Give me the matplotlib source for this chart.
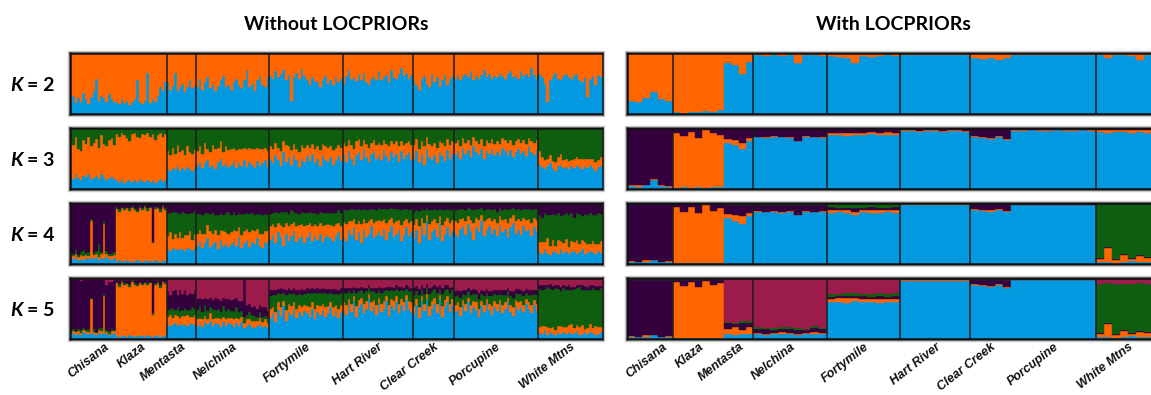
import matplotlib
matplotlib.use("Agg")
import numpy as np
import matplotlib.pyplot as plt
from matplotlib.patches import Rectangle
from matplotlib.transforms import blended_transform_factory

# ---------------------------------------------------------------------------
# Populations (in plotting order) and number of individuals in each
# ---------------------------------------------------------------------------
populations = ["Chisana", "Klaza", "Mentasta", "Nelchina", "Fortymile",
               "Hart River", "Clear Creek", "Porcupine", "White Mtns"]
sample_sizes = [46, 51, 29, 73, 73, 70, 41, 84, 64]

cluster_colors = {
    "blue": "#0299E1",
    "orange": "#FF6600",
    "green": "#0E5E10",
    "purple": "#34003E",
    "maroon": "#9B1B4B",
}

# separator lines are drawn after these population indices
left_separators = [1, 2, 3, 4, 5, 6, 7]
right_separators = [0, 2, 3, 4, 5, 7]

# ---------------------------------------------------------------------------
# Ancestry proportions (%) - without LOCPRIORs.  One inner list per
# population; the top-most cluster takes the remainder up to 100 %.
# ---------------------------------------------------------------------------
left_k2_blue = [
    [22, 30, 18, 26, 20, 34, 24, 16, 28, 38, 57, 22, 30, 26, 20, 32, 24, 19],
    [20, 16, 24, 18, 22, 15, 19, 25, 56, 20, 17, 22, 68, 18, 24, 20, 30, 45, 38, 52],
    [52, 40, 46, 68, 38, 44, 50, 36, 45, 55, 42, 48],
    [45, 58, 40, 52, 60, 42, 50, 38, 46, 55, 62, 44, 48, 40, 52, 58, 47, 42, 55, 72,
     44, 50, 38, 56, 62, 48, 45, 60],
    [62, 58, 70, 60, 66, 72, 55, 64, 22, 60, 68, 58, 74, 62, 56, 48, 60, 54, 52, 45,
     58, 62, 50, 56, 48, 60, 52, 58],
    [50, 62, 72, 58, 60, 54, 66, 55, 68, 52, 48, 58, 62, 56, 70, 55, 60, 64, 52, 72,
     60, 58, 66, 75, 62, 68, 58, 64],
    [55, 48, 40, 58, 62, 50, 44, 66, 52, 60, 45, 55, 64, 48, 58, 62],
    [58, 64, 55, 62, 66, 60, 70, 56, 62, 58, 64, 72, 60, 66, 58, 63, 60, 68, 62, 58,
     66, 70, 60, 64, 58, 70, 62, 66, 60, 75, 64, 58],
    [66, 60, 50, 20, 56, 62, 68, 58, 55, 62, 66, 60, 58, 64, 66, 56, 52, 60, 28, 58,
     62, 48, 64, 60],
]

left_k3_blue = [
    [20, 16, 24, 18, 15, 22, 19, 25, 17, 18, 22, 16, 25, 20, 14, 18, 22, 16],
    [14, 12, 16, 10, 13, 15, 11, 14, 12, 16, 13, 11, 15, 12, 14, 10, 13, 16, 12, 14],
    [33, 30, 35, 32, 38, 30, 34, 31, 36, 33, 30, 35],
    [38, 45, 35, 42, 48, 36, 40, 33, 44, 50, 38, 42, 36, 40, 46, 34, 42, 38, 48, 36,
     44, 40, 35, 46, 38, 42, 48, 36],
    [50, 42, 56, 48, 38, 60, 45, 52, 40, 55, 47, 36, 50, 44, 54, 46, 58, 42, 50, 38,
     56, 48, 44, 52, 40, 48, 54, 46],
    [58, 45, 62, 50, 40, 55, 60, 48, 65, 52, 44, 58, 62, 50, 56, 48, 64, 54, 46, 60,
     52, 58, 44, 62, 50, 56, 60, 48],
    [50, 62, 44, 58, 40, 65, 52, 48, 56, 42, 60, 54, 46, 64, 50, 58],
    [55, 62, 50, 68, 58, 64, 52, 70, 60, 56, 66, 50, 62, 58, 65, 55, 60, 54, 68, 62,
     56, 64, 52, 60, 66, 58, 62, 54, 70, 60, 56, 64],
    [40, 36, 32, 38, 42, 35, 30, 38, 40, 34, 36, 32, 38, 34, 40, 36, 32, 38, 35, 40,
     34, 30, 36, 38],
]
left_k3_orange = [
    [58, 56, 61, 48, 47, 58, 55, 61, 53, 58, 60, 52, 63, 54, 56, 62, 62, 56],
    [76, 74, 76, 78, 71, 63, 79, 78, 74, 68, 77, 77, 77, 74, 76, 70, 75, 76, 74, 76],
    [29, 25, 33, 26, 34, 30, 30, 25, 34, 27, 28, 31],
    [24, 25, 23, 33, 18, 24, 32, 32, 24, 28, 22, 28, 28, 26, 22, 30, 24, 28, 20, 30,
     24, 26, 30, 22, 28, 24, 20, 26],
    [20, 24, 19, 20, 24, 18, 27, 18, 24, 19, 19, 24, 22, 24, 18, 22, 16, 24, 20, 26,
     18, 22, 24, 18, 24, 20, 18, 22],
    [17, 25, 18, 22, 26, 23, 22, 22, 15, 22, 24, 18, 18, 22, 20, 24, 16, 20, 24, 18,
     22, 20, 26, 16, 22, 20, 18, 24],
    [22, 20, 22, 20, 30, 20, 22, 22, 20, 26, 18, 22, 24, 18, 22, 20],
    [20, 18, 20, 16, 18, 16, 20, 16, 18, 18, 16, 20, 18, 18, 17, 19, 18, 20, 16, 18,
     20, 16, 20, 18, 16, 18, 18, 20, 14, 18, 20, 16],
    [22, 16, 16, 12, 14, 11, 14, 14, 18, 14, 14, 14, 10, 16, 12, 14, 18, 12, 14, 10,
     16, 14, 12, 14],
]

left_k4_blue = [
    [10, 8, 12, 6, 9, 7, 11, 8, 10, 9, 12, 7, 10, 8, 11, 9, 7, 10],
    [5, 6, 4, 5, 6, 5, 4, 5, 6, 5, 4, 6, 5, 5, 4, 6, 5, 4, 6, 5],
    [24, 22, 26, 25, 23, 24, 25, 22, 26, 24, 23, 25],
    [30, 38, 26, 34, 42, 28, 32, 36, 25, 40, 30, 35, 28, 33, 38, 30, 44, 26, 34, 40,
     28, 36, 32, 42, 30, 26, 36, 32],
    [40, 48, 35, 52, 44, 30, 50, 38, 46, 54, 36, 42, 48, 34, 44, 52, 38, 46, 40, 50,
     36, 44, 48, 42, 38, 46, 52, 40],
    [45, 38, 55, 48, 60, 40, 52, 35, 58, 44, 50, 62, 42, 48, 54, 46, 58, 40, 52, 62,
     44, 50, 56, 38, 48, 60, 46, 52],
    [42, 55, 35, 62, 48, 70, 40, 52, 58, 44, 66, 38, 50, 60, 46, 54],
    [50, 44, 58, 62, 48, 66, 54, 40, 60, 52, 70, 46, 56, 62, 50, 58, 46, 64, 52, 58,
     44, 60, 68, 50, 56, 48, 62, 54, 58, 46, 60, 52],
    [20, 16, 24, 18, 15, 22, 20, 17, 24, 18, 21, 16, 19, 22, 17, 20, 24, 16, 18, 22,
     20, 17, 21, 18],
]
left_k4_orange = [
    [6, 5, 4, 5, 5, 6, 4, 5, 60, 6, 4, 5, 6, 58, 5, 4, 6, 5],
    [85, 80, 88, 84, 86, 82, 88, 84, 80, 86, 84, 88, 82, 86, 30, 84, 86, 82, 88, 84],
    [22, 30, 15, 25, 20, 28, 18, 26, 22, 30, 16, 24],
    [20, 18, 24, 16, 22, 26, 18, 20, 22, 15, 24, 18, 22, 20, 18, 24, 16, 22, 20, 18,
     24, 20, 22, 16, 20, 24, 18, 22],
    [22, 18, 26, 16, 20, 30, 18, 24, 20, 15, 26, 22, 18, 28, 20, 16, 24, 20, 22, 18,
     26, 20, 18, 22, 24, 20, 16, 22],
    [24, 28, 16, 22, 14, 26, 18, 30, 16, 24, 20, 12, 26, 22, 18, 24, 16, 28, 20, 14,
     24, 20, 16, 26, 22, 14, 22, 18],
    [22, 18, 28, 14, 20, 10, 26, 18, 16, 24, 12, 26, 20, 16, 22, 18],
    [20, 24, 16, 14, 22, 12, 18, 28, 16, 20, 10, 24, 18, 14, 20, 16, 22, 14, 20, 16,
     24, 16, 12, 20, 18, 22, 14, 18, 16, 22, 16, 20],
    [16, 20, 12, 24, 14, 18, 10, 22, 14, 16, 20, 12, 18, 14, 22, 12, 16, 20, 14, 10,
     18, 16, 12, 20],
]
left_k4_green = [
    [3, 4, 8, 3, 5, 10, 3, 6, 4, 3, 5, 20, 3, 4, 6, 3, 5, 4],
    [3, 4, 2, 3, 2, 5, 3, 2, 3, 4, 3, 2, 4, 3, 2, 3, 2, 4, 2, 3],
    [38, 32, 44, 35, 40, 30, 42, 36, 34, 30, 44, 38],
    [32, 26, 30, 34, 20, 28, 36, 24, 33, 28, 26, 30, 35, 28, 30, 26, 24, 34, 28, 26,
     30, 28, 26, 24, 32, 30, 28, 26],
    [20, 18, 24, 16, 22, 26, 18, 20, 22, 16, 22, 18, 20, 22, 20, 18, 22, 18, 20, 18,
     22, 20, 18, 20, 22, 18, 20, 22],
    [20, 22, 18, 20, 16, 22, 20, 24, 16, 20, 18, 16, 22, 18, 20, 20, 16, 22, 18, 16,
     22, 20, 18, 24, 20, 16, 20, 20],
    [22, 15, 24, 14, 20, 12, 22, 18, 16, 20, 12, 24, 18, 14, 20, 16],
    [18, 20, 16, 14, 18, 14, 18, 20, 14, 18, 12, 18, 16, 14, 18, 16, 18, 14, 16, 16,
     20, 14, 12, 18, 16, 18, 14, 18, 16, 20, 14, 18],
    [44, 40, 48, 38, 52, 42, 50, 44, 40, 46, 42, 52, 46, 40, 44, 50, 38, 46, 48, 52,
     42, 48, 50, 44],
]

left_k5_blue = [
    [8, 10, 6, 9, 7, 11, 8, 9, 10, 8, 7, 10, 9, 11, 8, 6, 9, 10],
    [5, 4, 6, 5, 4, 6, 5, 4, 5, 6, 5, 4, 6, 5, 4, 5, 6, 4, 5, 6],
    [24, 22, 25, 26, 22, 24, 23, 25, 22, 26, 24, 23],
    [22, 26, 20, 28, 24, 30, 22, 26, 24, 20, 28, 22, 26, 24, 20, 26, 22, 28, 18, 22,
     24, 20, 18, 22, 24, 20, 22, 18],
    [35, 42, 28, 48, 38, 54, 30, 45, 40, 50, 34, 44, 38, 46, 42, 36, 50, 32, 44, 40,
     48, 36, 42, 52, 38, 46, 34, 44],
    [48, 40, 56, 44, 62, 36, 52, 58, 42, 50, 65, 46, 54, 40, 58, 44, 50, 62, 38, 54,
     48, 60, 42, 56, 46, 64, 50, 44],
    [40, 55, 34, 62, 46, 66, 38, 50, 58, 42, 64, 36, 52, 60, 44, 56],
    [44, 50, 38, 56, 46, 60, 42, 52, 48, 36, 54, 44, 58, 48, 40, 52, 46, 56, 42, 50,
     60, 44, 38, 54, 48, 52, 44, 58, 50, 42, 56, 46],
    [10, 8, 14, 7, 12, 9, 6, 10, 8, 12, 9, 11, 8, 10, 13, 7, 9, 11, 8, 12, 10, 7, 9, 11],
]
left_k5_orange = [
    [4, 3, 5, 4, 3, 4, 5, 3, 55, 4, 3, 5, 4, 60, 4, 3, 4, 3],
    [86, 82, 88, 84, 86, 80, 88, 84, 82, 86, 84, 88, 82, 86, 35, 84, 86, 80, 88, 84],
    [12, 18, 10, 14, 16, 10, 14, 12, 18, 10, 12, 16],
    [10, 8, 12, 10, 8, 12, 10, 8, 10, 12, 8, 10, 8, 10, 12, 8, 10, 8, 8, 10, 8, 10, 12,
     8, 10, 8, 10, 8],
    [14, 10, 16, 12, 15, 8, 18, 12, 14, 10, 16, 12, 14, 10, 12, 16, 10, 18, 12, 14, 10,
     16, 12, 8, 14, 10, 16, 12],
    [12, 16, 10, 14, 8, 18, 12, 10, 16, 12, 8, 14, 10, 16, 10, 14, 12, 8, 18, 12, 14,
     10, 16, 10, 14, 8, 12, 16],
    [14, 10, 18, 8, 12, 8, 16, 12, 10, 16, 8, 18, 12, 10, 14, 10],
    [12, 10, 14, 8, 12, 8, 14, 10, 12, 14, 8, 12, 8, 10, 14, 10, 12, 8, 14, 10, 8, 12,
     14, 10, 12, 10, 12, 8, 10, 14, 8, 12],
    [10, 14, 8, 12, 6, 10, 8, 12, 14, 8, 10, 12, 16, 8, 10, 12, 14, 6, 10, 12, 8, 14,
     10, 8],
]
left_k5_green = [
    [3, 4, 2, 3, 5, 3, 2, 4, 3, 4, 2, 3, 5, 3, 2, 4, 3, 2],
    [3, 4, 2, 3, 2, 4, 3, 3, 3, 2, 3, 2, 4, 3, 3, 2, 3, 4, 2, 3],
    [12, 10, 16, 8, 14, 12, 10, 14, 8, 12, 16, 10],
    [16, 20, 12, 18, 14, 10, 18, 14, 16, 12, 18, 14, 16, 12, 14, 18, 12, 10, 10, 8, 12,
     10, 8, 6, 10, 8, 6, 8],
    [22, 20, 28, 16, 20, 14, 24, 18, 20, 16, 22, 18, 20, 18, 22, 24, 16, 26, 20, 22, 18,
     24, 20, 16, 22, 18, 24, 20],
    [16, 20, 12, 18, 10, 22, 14, 12, 18, 16, 10, 18, 14, 20, 12, 18, 16, 10, 22, 14, 16,
     12, 20, 14, 18, 10, 16, 18],
    [18, 14, 20, 12, 16, 10, 20, 16, 14, 18, 10, 20, 16, 12, 18, 14],
    [14, 12, 16, 10, 14, 10, 16, 12, 14, 16, 12, 14, 10, 12, 16, 12, 14, 10, 16, 12, 10,
     14, 16, 12, 14, 12, 14, 10, 12, 16, 10, 14],
    [62, 58, 60, 66, 64, 62, 70, 60, 56, 64, 62, 58, 56, 64, 60, 66, 58, 64, 62, 56, 66,
     60, 62, 64],
]
left_k5_purple = [
    [83, 80, 85, 82, 80, 78, 84, 80, 30, 82, 84, 78, 80, 24, 75, 80, 78, 82],
    [4, 6, 2, 5, 6, 7, 2, 6, 8, 4, 5, 4, 6, 4, 55, 6, 3, 9, 3, 5],
    [30, 22, 28, 32, 20, 34, 26, 30, 24, 28, 22, 32],
    [18, 14, 22, 12, 20, 16, 14, 20, 16, 18, 14, 20, 16, 18, 20, 16, 18, 16, 62, 16, 14,
     12, 16, 14, 12, 16, 14, 12],
    [10, 8, 8, 6, 10, 6, 8, 8, 6, 8, 8, 6, 10, 6, 8, 6, 8, 6, 8, 6, 8, 6, 8, 6, 8, 8, 6, 8],
    [8, 8, 6, 8, 6, 8, 6, 6, 8, 6, 5, 6, 6, 8, 6, 8, 6, 6, 8, 6, 6, 6, 8, 6, 6, 6, 8, 6],
    [12, 8, 10, 6, 10, 6, 10, 8, 6, 10, 6, 10, 8, 6, 8, 6],
    [8, 8, 10, 6, 8, 6, 8, 8, 6, 10, 6, 8, 6, 8, 8, 6, 8, 6, 8, 8, 6, 8, 10, 6, 8, 6, 8,
     6, 8, 8, 6, 8],
    [6, 8, 6, 4, 8, 6, 4, 6, 8, 4, 6, 8, 6, 4, 6, 4, 8, 6, 6, 8, 4, 6, 6, 4],
]

# ---------------------------------------------------------------------------
# Ancestry proportions (%) - with LOCPRIORs
# ---------------------------------------------------------------------------
right_k2_blue = [
    [22, 20, 26, 36, 24, 21],
    [3, 2, 4, 3, 5, 4, 6],
    [84, 80, 65, 86],
    [96, 95, 96, 95, 97, 84, 96, 96, 95],
    [95, 94, 92, 83, 95, 94, 95, 96, 95],
    [97, 96, 97, 97, 96, 97, 97, 96, 97],
    [92, 90, 91, 89, 92],
    [97, 97, 96, 97, 97, 96, 97, 97, 96, 97],
    [96, 92, 96, 97, 95, 88, 96, 66],
]

right_k3_blue = [
    [5, 4, 6, 14, 5, 4],
    [2, 3, 2, 3, 2, 3, 3],
    [76, 72, 66, 78],
    [85, 84, 86, 85, 84, 78, 86, 85, 84],
    [88, 89, 87, 89, 88, 90, 88, 89, 88],
    [95, 95, 94, 95, 95, 94, 95, 95, 94],
    [86, 84, 82, 86, 80],
    [95, 95, 96, 95, 95, 96, 95, 95, 96, 95],
    [93, 92, 93, 94, 92, 93, 91, 93],
]
right_k3_orange = [
    [1, 2, 1, 2, 1, 1],
    [90, 84, 92, 80, 94, 88, 86],
    [6, 8, 10, 5],
    [1, 1, 1, 1, 2, 1, 1, 1, 1],
    [4, 3, 4, 3, 4, 3, 4, 4, 3],
    [1, 1, 1, 1, 1, 1, 1, 1, 1],
    [1, 2, 1, 1, 2],
    [1, 1, 1, 1, 1, 1, 1, 1, 1, 1],
    [4, 5, 3, 3, 4, 3, 6, 4],
]

right_k4_blue = [
    [4, 3, 4, 6, 3, 4],
    [2, 2, 1, 2, 2, 1, 2],
    [76, 70, 66, 78],
    [86, 85, 86, 84, 86, 80, 86, 85, 86],
    [84, 85, 83, 80, 85, 84, 83, 85, 84],
    [96, 96, 96, 96, 96, 96, 96, 96, 96],
    [88, 87, 86, 88, 85],
    [96, 96, 96, 96, 96, 96, 96, 96, 96, 96],
    [3, 4, 2, 3, 5, 3, 4, 3],
]
right_k4_orange = [
    [1, 1, 2, 1, 1, 1],
    [92, 84, 93, 82, 94, 86, 90],
    [6, 10, 12, 5],
    [1, 1, 1, 1, 1, 1, 1, 1, 1],
    [5, 4, 5, 6, 4, 5, 5, 4, 5],
    [2, 2, 2, 2, 2, 2, 2, 2, 2],
    [2, 2, 2, 2, 2],
    [1, 1, 1, 1, 1, 1, 1, 1, 1, 1],
    [6, 22, 5, 12, 4, 10, 6, 24],
]
right_k4_purple = [
    [93, 94, 92, 91, 94, 93],
    [4, 12, 4, 14, 3, 11, 6],
    [14, 16, 18, 14],
    [10, 11, 10, 12, 10, 16, 10, 11, 10],
    [4, 3, 4, 5, 3, 4, 4, 3, 4],
    [1, 1, 1, 1, 1, 1, 1, 1, 1],
    [8, 9, 10, 8, 11],
    [2, 2, 2, 2, 2, 2, 2, 2, 2, 2],
    [1, 2, 1, 1, 1, 2, 1, 4],
]

right_k5_blue = [
    [4, 3, 4, 6, 3, 4],
    [1, 1, 1, 1, 1, 1, 1],
    [8, 7, 8, 9],
    [8, 7, 8, 9, 8, 7, 8, 9, 8],
    [60, 61, 59, 62, 60, 61, 59, 60, 61],
    [95, 95, 95, 95, 95, 95, 95, 95, 95],
    [88, 87, 85, 88, 84],
    [96, 96, 96, 96, 96, 96, 96, 96, 96, 96],
    [3, 4, 2, 3, 5, 3, 4, 3],
]
right_k5_orange = [
    [1, 1, 2, 1, 1, 1],
    [92, 86, 93, 84, 94, 88, 91],
    [8, 12, 6, 10],
    [2, 2, 2, 2, 2, 2, 2, 2, 2],
    [5, 6, 8, 5, 6, 5, 7, 6, 5],
    [2, 2, 2, 2, 2, 2, 2, 2, 2],
    [2, 2, 2, 2, 2],
    [1, 1, 1, 1, 1, 1, 1, 1, 1, 1],
    [6, 20, 5, 10, 4, 8, 6, 22],
]
right_k5_purple = [
    [91, 92, 90, 89, 92, 91],
    [4, 10, 3, 12, 3, 9, 5],
    [10, 6, 12, 8],
    [6, 7, 5, 6, 7, 6, 5, 7, 6],
    [4, 3, 4, 3, 4, 3, 4, 3, 4],
    [1, 1, 1, 1, 1, 1, 1, 1, 1],
    [7, 8, 10, 7, 10],
    [1, 1, 1, 1, 1, 1, 1, 1, 1, 1],
    [1, 2, 1, 1, 1, 2, 1, 6],
]
right_k5_green = [
    [2, 3, 2, 2, 3, 2],
    [1, 1, 1, 1, 1, 1, 1],
    [2, 2, 3, 2],
    [3, 2, 3, 2, 3, 3, 2, 3, 2],
    [5, 4, 5, 6, 4, 5, 5, 4, 5],
    [0, 0, 0, 0, 0, 0, 0, 0, 0],
    [1, 1, 1, 1, 1],
    [0, 0, 0, 0, 0, 0, 0, 0, 0, 0],
    [80, 66, 82, 76, 80, 78, 79, 60],
]

# cluster stacking order (bottom -> top) and the listed columns per K
left_runs = [
    (2, ["blue", "orange"], [left_k2_blue]),
    (3, ["blue", "orange", "green"], [left_k3_blue, left_k3_orange]),
    (4, ["blue", "orange", "green", "purple"],
     [left_k4_blue, left_k4_orange, left_k4_green]),
    (5, ["blue", "orange", "green", "purple", "maroon"],
     [left_k5_blue, left_k5_orange, left_k5_green, left_k5_purple]),
]
right_runs = [
    (2, ["blue", "orange"], [right_k2_blue]),
    (3, ["blue", "orange", "purple"], [right_k3_blue, right_k3_orange]),
    (4, ["blue", "orange", "purple", "green"],
     [right_k4_blue, right_k4_orange, right_k4_purple]),
    (5, ["blue", "orange", "purple", "green", "maroon"],
     [right_k5_blue, right_k5_orange, right_k5_purple, right_k5_green]),
]

# ---------------------------------------------------------------------------
W, H = 1151, 395
fig = plt.figure(figsize=(W / 100, H / 100), dpi=100)
fig.patch.set_facecolor("white")


def px_rect(x0, y0, w, h):
    return [x0 / W, 1 - (y0 + h) / H, w / W, h / H]


panel_left_x = [69.5, 627.0]
panel_w = 533.0
row_tops = [53, 128, 203, 278]
row_h = 61

starts = np.concatenate([[0], np.cumsum(sample_sizes)])
centers = (starts[:-1] + starts[1:]) / 2


def draw_structure(ax, order, columns, separators):
    for p in range(len(populations)):
        n = len(columns[0][p])
        w = sample_sizes[p] / n
        xs = starts[p] + w * np.arange(n)
        bottom = np.zeros(n)
        for name, col in zip(order[:-1], columns):
            h = np.asarray(col[p], dtype=float)
            c = cluster_colors[name]
            ax.bar(xs, h, width=w, bottom=bottom, align="edge", color=c,
                   edgecolor=c, linewidth=0.3)
            bottom += h
        c = cluster_colors[order[-1]]
        ax.bar(xs, 100 - bottom, width=w, bottom=bottom, align="edge",
               color=c, edgecolor=c, linewidth=0.3)
    for s in separators:
        ax.axvline(starts[s + 1], color="#1c1c1c", lw=1.1)
    ax.set_xlim(0, starts[-1])
    ax.set_ylim(0, 100)
    ax.set_xticks([])
    ax.set_yticks([])
    for sp in ax.spines.values():
        sp.set_linewidth(1.8)
        sp.set_color("#111111")


bottom_axes = []
for panel, (runs, seps) in enumerate([(left_runs, left_separators),
                                      (right_runs, right_separators)]):
    x0 = panel_left_x[panel]
    for r, (k, order, columns) in enumerate(runs):
        # soft grey outline around each frame
        fig.add_artist(Rectangle(((x0 - 2) / W, 1 - (row_tops[r] + row_h + 2) / H),
                                 (panel_w + 4) / W, (row_h + 4) / H,
                                 transform=fig.transFigure, fill=False,
                                 edgecolor="#c8c8c8", lw=1.0))
        ax = fig.add_axes(px_rect(x0, row_tops[r], panel_w, row_h))
        draw_structure(ax, order, columns, seps)
        if r == len(runs) - 1:
            bottom_axes.append(ax)

# K labels
for r, (k, _, _) in enumerate(left_runs):
    yc = 1 - (row_tops[r] + row_h / 2 + 2) / H
    tk = fig.text(10 / W, yc, "K", family="Lato", weight="bold",
                  style="italic", fontsize=14, va="center", ha="left")
    plt.annotate(f"= {k}", xy=(1, 0.5), xycoords=tk, xytext=(3.5, 0),
                 textcoords="offset points", family="Lato", weight="bold",
                 fontsize=14, va="center", ha="left")

# panel titles
fig.text((69.5 + panel_w / 2) / W, 1 - 30 / H, "Without LOCPRIORs",
         family="Lato", weight="bold", fontsize=14, ha="center",
         va="baseline")
fig.text((627 + panel_w / 2) / W, 1 - 30 / H, "With LOCPRIORs",
         family="Lato", weight="bold", fontsize=14, ha="center",
         va="baseline")

# population names under the bottom row
label_nudge = {"Chisana": 12}
for ax in bottom_axes:
    trans = blended_transform_factory(ax.transData, fig.transFigure)
    for name, xc in zip(populations, centers):
        ax.text(xc + label_nudge.get(name, 0) * starts[-1] / panel_w,
                1 - 341 / H, name, transform=trans, rotation=38,
                rotation_mode="anchor", ha="right", va="top",
                family="Liberation Sans", style="italic", weight="bold",
                fontsize=9.0, color="#111111", clip_on=False)

fig.savefig("out.png", dpi=100)
